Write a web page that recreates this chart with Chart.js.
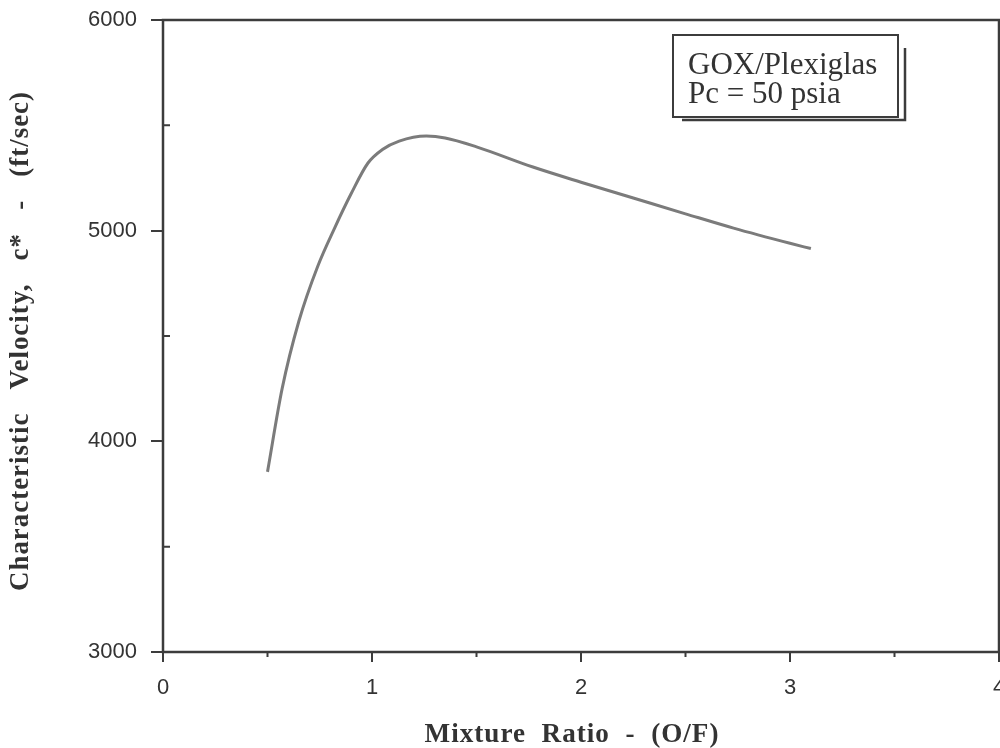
<!DOCTYPE html>
<html>
<head>
<meta charset="utf-8">
<script src="https://cdn.jsdelivr.net/npm/chart.js@4.4.1/dist/chart.umd.min.js"></script>
<style>
  html, body { margin: 0; padding: 0; background: #fff; overflow: hidden; }
  #wrap { width: 1000px; height: 748px; }
</style>
</head>
<body>
<div id="wrap"><canvas id="cstar"></canvas></div>
<script>
// mixture ratio O/F vs characteristic velocity c* (ft/sec)
const mixtureRatio = [0.50, 0.57, 0.65, 0.74, 0.82, 0.90, 0.98, 1.05, 1.13, 1.26, 1.35, 1.50, 1.77, 2.00, 2.25, 2.50, 2.73, 3.00, 3.10];
const cStar        = [3855, 4250, 4570, 4830, 5010, 5175, 5320, 5385, 5425, 5449, 5440, 5398, 5302, 5230, 5155, 5080, 5012, 4940, 4915];
const xTicks = [0, 1, 2, 3, 4];
const yTicks = [3000, 4000, 5000, 6000];
const xMinor = [0.5, 1.5, 2.5, 3.5];
const yMinor = [3500, 4500, 5500];
const legendLines = ['GOX/Plexiglas', 'Pc = 50 psia'];
const xTitle = 'Mixture  Ratio  -  (O/F)';
const yTitle = 'Characteristic   Velocity,   c*   -   (ft/sec)';

const ink = '#3c3c3c';
const titleFont = 'bold 27px "Liberation Serif", "Times New Roman", serif';

// draw a condensed, letter-spaced title squeezed to a given length
function spacedTitle(ctx, text, cx, cy, len, angle) {
    ctx.save();
    ctx.font = titleFont;
    ctx.letterSpacing = '1px';
    const w = ctx.measureText(text).width;
    ctx.translate(cx, cy);
    ctx.rotate(angle);
    ctx.scale(len / w, 1);
    ctx.textAlign = 'center';
    ctx.textBaseline = 'middle';
    ctx.fillText(text, 0, 0);
    ctx.restore();
}

// frame, minor ticks, axis titles and the shadowed label box
const decorations = {
    id: 'decorations',
    afterDraw(chart) {
        const ctx = chart.ctx;
        const a = chart.chartArea;
        const xs = chart.scales.x, ys = chart.scales.y;
        ctx.save();
        ctx.strokeStyle = ink;
        ctx.lineWidth = 2.5;
        ctx.strokeRect(a.left, a.top, a.right - a.left, a.bottom - a.top);

        // minor ticks
        ctx.lineWidth = 2;
        ctx.beginPath();
        yMinor.forEach(v => {
            const y = ys.getPixelForValue(v);
            ctx.moveTo(a.left, y); ctx.lineTo(a.left + 7, y);
        });
        xMinor.forEach(v => {
            const x = xs.getPixelForValue(v);
            ctx.moveTo(x, a.bottom); ctx.lineTo(x, a.bottom + 5);
        });
        ctx.stroke();

        ctx.fillStyle = '#333';
        spacedTitle(ctx, xTitle, 572, a.bottom + 83, 295, 0);
        spacedTitle(ctx, yTitle, 21, 341, 500, -Math.PI / 2);

        // label box
        const bx = a.left + 510, by = a.top + 15, bw = 225, bh = 82;
        ctx.lineWidth = 2;
        ctx.strokeRect(bx, by, bw, bh);
        ctx.lineWidth = 2.5;
        ctx.beginPath();
        ctx.moveTo(bx + bw + 7, by + 13);
        ctx.lineTo(bx + bw + 7, by + bh + 3);
        ctx.lineTo(bx + 9, by + bh + 3);
        ctx.stroke();
        ctx.font = '31px "Liberation Serif", "Times New Roman", serif';
        ctx.textAlign = 'left';
        ctx.textBaseline = 'alphabetic';
        ctx.fillText(legendLines[0], bx + 15, by + 39);
        ctx.fillText(legendLines[1], bx + 15, by + 68);
        ctx.restore();
    }
};

new Chart(document.getElementById('cstar'), {
    type: 'line',
    data: {
        datasets: [{
            data: mixtureRatio.map((x, i) => ({ x: x, y: cStar[i] })),
            borderColor: '#7b7b7b',
            borderWidth: 3,
            pointRadius: 0,
            fill: false,
            cubicInterpolationMode: 'monotone'
        }]
    },
    options: {
        responsive: true,
        maintainAspectRatio: false,
        animation: false,
        layout: { padding: { top: 20, right: 1, left: 0, bottom: 0 } },
        plugins: {
            legend: { display: false },
            tooltip: { enabled: false }
        },
        scales: {
            x: {
                type: 'linear',
                min: 0, max: 4,
                afterBuildTicks: s => { s.ticks = xTicks.map(v => ({ value: v })); },
                afterFit: s => { s.paddingRight = 0; s.paddingLeft = 0; s.height = 96; },
                border: { display: false },
                grid: { drawOnChartArea: false, drawTicks: true, tickLength: 10, color: ink, lineWidth: 2 },
                ticks: {
                    color: '#333',
                    padding: 13,
                    maxRotation: 0,
                    callback: v => String(v),
                    font: { family: '"Liberation Sans", Arial, sans-serif', size: 22 }
                }
            },
            y: {
                min: 3000, max: 6000,
                afterBuildTicks: s => { s.ticks = yTicks.map(v => ({ value: v })); },
                afterFit: s => { s.width = 163; s.paddingTop = 0; s.paddingBottom = 0; },
                border: { display: false },
                grid: { drawOnChartArea: false, drawTicks: true, tickLength: 12, color: ink, lineWidth: 2 },
                ticks: {
                    color: '#333',
                    padding: 14,
                    callback: v => String(v),
                    font: { family: '"Liberation Sans", Arial, sans-serif', size: 22 }
                }
            }
        }
    },
    plugins: [decorations]
});
</script>
</body>
</html>
